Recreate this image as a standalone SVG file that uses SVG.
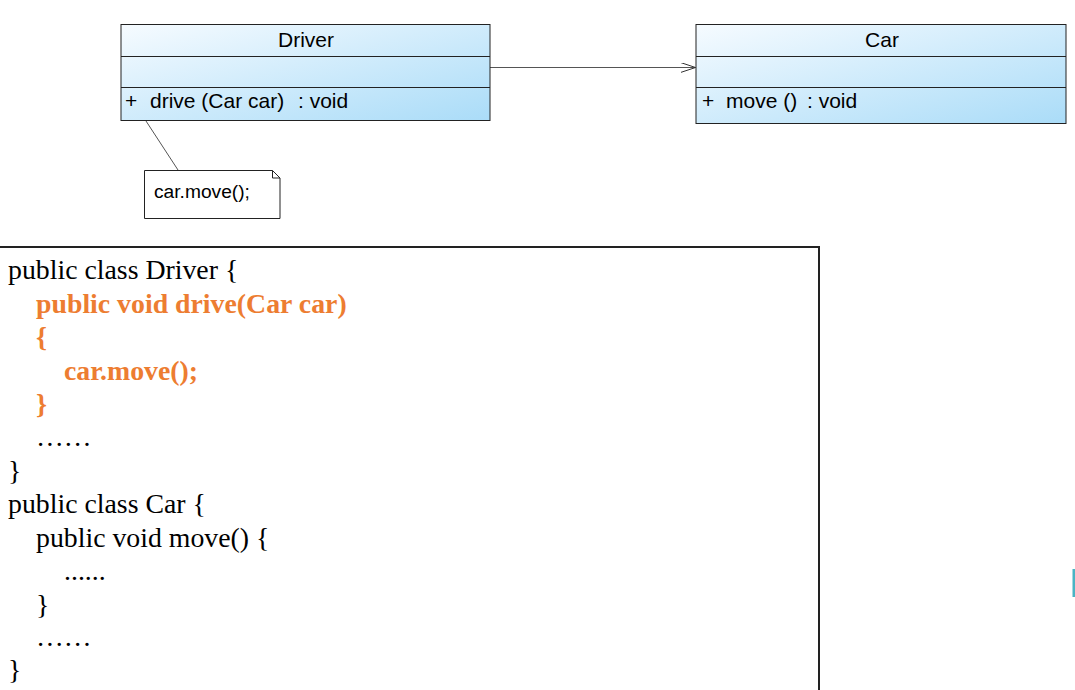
<svg xmlns="http://www.w3.org/2000/svg" width="1075" height="690" viewBox="0 0 1075 690">
<style>
.box{stroke:#222;stroke-width:1}
.div{stroke:#222;stroke-width:1}
.uml{font-family:"Liberation Sans",Arial,sans-serif;font-size:21px;fill:#000}
.note{font-family:"Liberation Sans",Arial,sans-serif;font-size:19.2px;fill:#000}
.code{font-family:"Liberation Serif","Times New Roman",serif;font-size:27.8px;fill:#000}
.hl{fill:#ED7D31;font-weight:bold}
.conn{stroke:#555;stroke-width:1;fill:none}
</style>
<defs>
<linearGradient id="g" x1="0" y1="0" x2="1" y2="1">
<stop offset="0" stop-color="#f6fbff"/>
<stop offset="1" stop-color="#aadcf8"/>
</linearGradient>
<marker id="arr" markerWidth="16" markerHeight="12" refX="15" refY="5" orient="auto" markerUnits="userSpaceOnUse">
<path d="M0,0 L15,5 L0,10" fill="none" stroke="#333" stroke-width="1"/>
</marker>
</defs>
<rect width="1075" height="690" fill="#fff"/>
<g id="connectors">
<line class="conn" x1="490" y1="67.5" x2="695.5" y2="67.5" marker-end="url(#arr)"/>
<line class="conn" x1="146" y1="121" x2="178" y2="170"/>
</g>
<g id="driver">
<rect class="box" x="121" y="24.5" width="369" height="96" fill="url(#g)"/>
<line class="div" x1="121" y1="56.5" x2="490" y2="56.5"/>
<line class="div" x1="121" y1="87.5" x2="490" y2="87.5"/>
<text class="uml" x="306" y="47" text-anchor="middle">Driver</text>
<text class="uml" y="108"><tspan x="125">+</tspan><tspan x="150">drive (Car car)</tspan><tspan x="298">: void</tspan></text>
</g>
<g id="car">
<rect class="box" x="696" y="24.5" width="370" height="99" fill="url(#g)"/>
<line class="div" x1="696" y1="56.5" x2="1066" y2="56.5"/>
<line class="div" x1="696" y1="87.5" x2="1066" y2="87.5"/>
<text class="uml" x="882" y="47" text-anchor="middle">Car</text>
<text class="uml" y="108"><tspan x="702">+</tspan><tspan x="726">move ()</tspan><tspan x="807">: void</tspan></text>
</g>
<g id="note">
<path d="M144.5,170.5 H272.5 L280,178 V218.5 H144.5 Z" fill="#fff" stroke="#222" stroke-width="1"/>
<path d="M272.5,170.5 V178 H280" fill="none" stroke="#222" stroke-width="1"/>
<text class="note" x="154" y="198">car.move();</text>
</g>
<g id="code">
<path d="M0,247 H819 V690" fill="none" stroke="#222" stroke-width="2"/>
<text class="code" x="8" y="279">public class Driver {</text>
<text class="code hl" x="36" y="312.5">public void drive(Car car)</text>
<text class="code hl" x="36" y="346">{</text>
<text class="code hl" x="64" y="379.5">car.move();</text>
<text class="code hl" x="36" y="413">}</text>
<text class="code" x="36" y="446">……</text>
<text class="code" x="8" y="479.5">}</text>
<text class="code" x="8" y="513">public class Car {</text>
<text class="code" x="36" y="546.5">public void move() {</text>
<text class="code" x="64" y="580">......</text>
<text class="code" x="36" y="613.5">}</text>
<text class="code" x="36" y="646">……</text>
<text class="code" x="8" y="679">}</text>
</g>
<rect x="1072.5" y="569" width="2.5" height="28" fill="#4ab4c4"/>
</svg>
